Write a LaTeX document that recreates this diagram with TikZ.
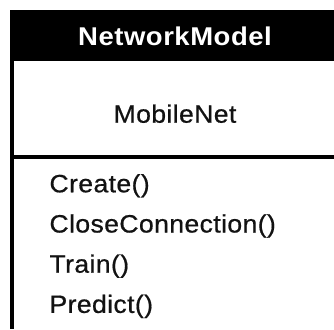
\documentclass[tikz,border=0pt]{standalone}
\usepackage{fontspec}
\setmainfont{Liberation Sans}
% Class box typography: slightly widened sans serif
\newfontfamily\classhead[FakeStretch=1.07, LetterSpace=2]{Liberation Sans Bold}
\newfontfamily\classbody[FakeStretch=1.06, LetterSpace=1.5, FakeBold=0.6]{Liberation Sans}
\tikzset{
  header/.style={anchor=base, inner sep=0pt, text=white,
    font=\classhead\fontsize{25.7pt}{30pt}\selectfont},
  body/.style={inner sep=0pt, text=black!93,
    font=\classbody\fontsize{25.1pt}{30pt}\selectfont},
  rule/.style={line width=3.5pt, draw=black}
}
\begin{document}
\begin{tikzpicture}[x=1pt, y=-1pt]
  \useasboundingbox[fill=white] (0,0) rectangle (334,329);
  % header bar of the class
  \fill[black] (10,9.7) rectangle (334,61);
  % left edge of the class box and the compartment divider
  \draw[rule] (11.75,61) -- (11.75,329);
  \draw[rule] (10,157) -- (334,157);
  % class name
  \node[header] (title) at (175,45.7) {NetworkModel};
  % attribute compartment
  \node[body, anchor=base] (attr) at (175,122.7) {MobileNet};
  % operations compartment
  \node[body, anchor=base west] (op1) at (49.3,192.3) {Create()};
  \node[body, anchor=base west] (op2) at (49.3,232.5) {CloseConnection()};
  \node[body, anchor=base west] (op3) at (49.3,272.7) {Train()};
  \node[body, anchor=base west] (op4) at (49.3,312.9) {Predict()};
\end{tikzpicture}
\end{document}
